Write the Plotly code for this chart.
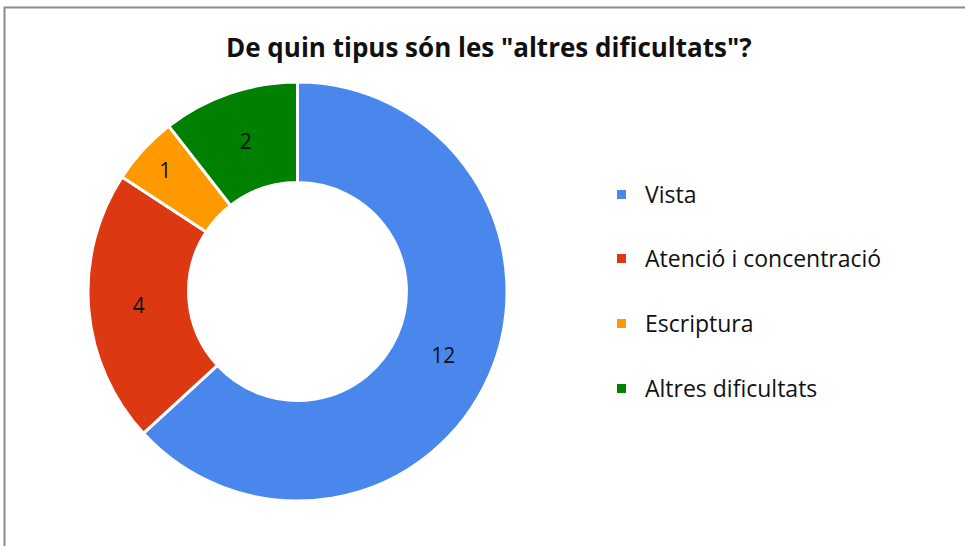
import plotly.graph_objects as go

labels = ["Vista", "Atenció i concentració", "Escriptura", "Altres dificultats"]
values = [12, 4, 1, 2]
colors = ["#4A87EC", "#DC3912", "#FF9900", "#008000"]
title = 'De quin tipus són les "altres dificultats"?'

W, H = 965, 546
FONT = "Open Sans"

fig = go.Figure()
fig.add_trace(go.Pie(
    labels=labels, values=values, hole=0.52, sort=False, direction="clockwise",
    rotation=0, marker=dict(colors=colors, line=dict(color="white", width=3)),
    textinfo="value", textposition="inside", insidetextorientation="horizontal",
    textfont=dict(family=FONT, size=21, color="#111111"),
    domain=dict(x=[88 / W, 507 / W], y=[(H - 501) / H, (H - 82) / H]),
    showlegend=False, hoverinfo="label+value",
))

shapes = [dict(type="rect", xref="paper", yref="paper",
               x0=4.5 / W, x1=1.2, y0=-0.2, y1=(H - 7.5) / H,
               line=dict(color="#8A8A8A", width=2), fillcolor="rgba(0,0,0,0)")]
annotations = [dict(text="<b>" + title + "</b>", xref="paper", yref="paper",
                    x=489 / W, y=(H - 47) / H, xanchor="center", yanchor="middle",
                    showarrow=False, font=dict(family=FONT, size=26, color="#111111"))]

ys = [194, 258, 323, 388]
for lab, col, yy in zip(labels, colors, ys):
    shapes.append(dict(type="rect", xref="paper", yref="paper",
                       x0=617 / W, x1=626 / W, y0=(H - yy - 5) / H, y1=(H - yy + 4) / H,
                       line=dict(width=0), fillcolor=col))
    annotations.append(dict(text=lab, xref="paper", yref="paper", x=643 / W, y=(H - yy) / H,
                            xanchor="left", yanchor="middle", showarrow=False,
                            font=dict(family=FONT, size=23, color="#111111")))

fig.update_layout(width=W, height=H, margin=dict(l=0, r=0, t=0, b=0),
                  paper_bgcolor="white", plot_bgcolor="white",
                  shapes=shapes, annotations=annotations)
fig.write_html("out.html", config={"displayModeBar": False},
               post_script="document.body.style.margin='0';document.body.style.overflow='hidden';")
